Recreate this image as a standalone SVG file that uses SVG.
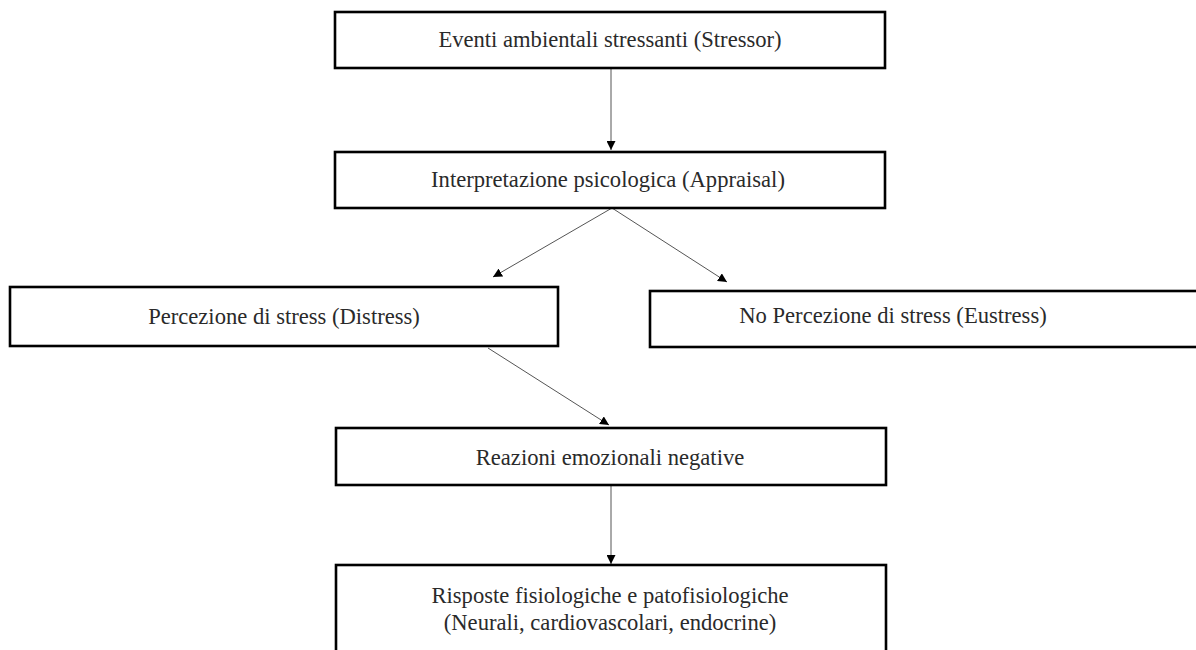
<svg xmlns="http://www.w3.org/2000/svg" width="1196" height="650" viewBox="0 0 1196 650">
  <defs>
    <marker id="arr" viewBox="0 0 10 10" refX="10" refY="5" markerWidth="9" markerHeight="9" markerUnits="userSpaceOnUse" orient="auto">
      <path d="M0,0 L10,5 L0,10 z" fill="#000"/>
    </marker>
  </defs>
  <style>
    .box { fill: #fff; stroke: #000; stroke-width: 2.6; }
    .lbl { font-family: "Liberation Serif", "DejaVu Serif", serif; font-size: 22.6px; fill: #2a2a2a; text-anchor: middle; }
    .conn { stroke: #555; stroke-width: 1; fill: none; marker-end: url(#arr); }
  </style>
  <rect width="1196" height="650" fill="#fff"/>
  <g id="connectors">
    <line class="conn" x1="611" y1="69" x2="611" y2="150"/>
    <line class="conn" x1="612" y1="208" x2="493" y2="277"/>
    <line class="conn" x1="612" y1="208" x2="727" y2="282"/>
    <line class="conn" x1="488" y1="348" x2="609" y2="425"/>
    <line class="conn" x1="611" y1="486" x2="611" y2="564"/>
  </g>
  <g id="stressor">
    <rect class="box" x="335" y="12" width="550" height="56"/>
    <text class="lbl" x="610" y="47">Eventi ambientali stressanti (Stressor)</text>
  </g>
  <g id="appraisal">
    <rect class="box" x="335" y="152" width="550" height="56"/>
    <text class="lbl" x="608" y="187">Interpretazione psicologica (Appraisal)</text>
  </g>
  <g id="distress">
    <rect class="box" x="10" y="287" width="548" height="59"/>
    <text class="lbl" x="284" y="324">Percezione di stress (Distress)</text>
  </g>
  <g id="eustress">
    <rect class="box" x="650" y="291" width="560" height="56"/>
    <text class="lbl" x="893" y="323">No Percezione di stress (Eustress)</text>
  </g>
  <g id="reazioni">
    <rect class="box" x="336" y="428" width="550" height="57"/>
    <text class="lbl" x="610" y="465">Reazioni emozionali negative</text>
  </g>
  <g id="risposte">
    <rect class="box" x="336" y="565" width="550" height="100"/>
    <text class="lbl" x="610" y="603">Risposte fisiologiche e patofisiologiche</text>
    <text class="lbl" x="610" y="630">(Neurali, cardiovascolari, endocrine)</text>
  </g>
</svg>
